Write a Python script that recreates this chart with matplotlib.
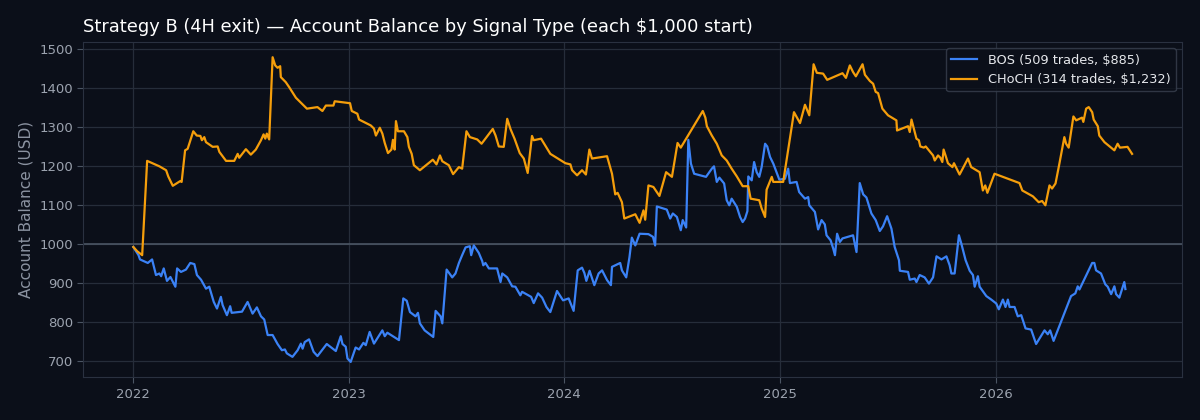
import matplotlib
matplotlib.use("Agg")
import matplotlib.pyplot as plt
from matplotlib.ticker import FixedLocator, FuncFormatter

# ---- data (decimal year, balance USD) ----
bos_t = [2022.001, 2022.025, 2022.032, 2022.068, 2022.088, 2022.106, 2022.122, 2022.130, 2022.142, 2022.157,
         2022.173, 2022.196, 2022.204, 2022.222, 2022.245, 2022.265, 2022.284, 2022.296, 2022.315, 2022.338,
         2022.353, 2022.374, 2022.389, 2022.407, 2022.415, 2022.435, 2022.450, 2022.457, 2022.505, 2022.531,
         2022.554, 2022.574, 2022.593, 2022.608, 2022.624, 2022.647, 2022.670, 2022.690, 2022.704, 2022.713,
         2022.739, 2022.763, 2022.778, 2022.786, 2022.796, 2022.816, 2022.837, 2022.855, 2022.898, 2022.940,
         2022.963, 2022.971, 2022.986, 2022.994, 2023.009, 2023.032, 2023.048, 2023.068, 2023.079, 2023.097,
         2023.117, 2023.156, 2023.167, 2023.179, 2023.233, 2023.253, 2023.269, 2023.284, 2023.310, 2023.321,
         2023.330, 2023.352, 2023.392, 2023.403, 2023.426, 2023.434, 2023.454, 2023.480, 2023.495, 2023.511,
         2023.526, 2023.542, 2023.562, 2023.568, 2023.580, 2023.603, 2023.619, 2023.624, 2023.634, 2023.650,
         2023.688, 2023.704, 2023.712, 2023.735, 2023.758, 2023.773, 2023.796, 2023.804, 2023.846, 2023.858,
         2023.878, 2023.897, 2023.917, 2023.935, 2023.966, 2023.994, 2024.020, 2024.043, 2024.062, 2024.082,
         2024.093, 2024.102, 2024.117, 2024.139, 2024.159, 2024.175, 2024.198, 2024.216, 2024.221, 2024.259,
         2024.267, 2024.287, 2024.302, 2024.313, 2024.329, 2024.349, 2024.390, 2024.411, 2024.421, 2024.429,
         2024.475, 2024.491, 2024.503, 2024.522, 2024.540, 2024.549, 2024.565, 2024.575, 2024.587, 2024.602,
         2024.657, 2024.684, 2024.694, 2024.707, 2024.719, 2024.741, 2024.753, 2024.765, 2024.776, 2024.800,
         2024.815, 2024.827, 2024.838, 2024.849, 2024.853, 2024.869, 2024.880, 2024.892, 2024.904, 2024.915,
         2024.931, 2024.941, 2024.954, 2024.969, 2024.997, 2025.023, 2025.038, 2025.046, 2025.077, 2025.089,
         2025.116, 2025.131, 2025.136, 2025.162, 2025.177, 2025.193, 2025.208, 2025.216, 2025.235, 2025.247,
         2025.255, 2025.265, 2025.278, 2025.290, 2025.339, 2025.355, 2025.370, 2025.386, 2025.401, 2025.424,
         2025.444, 2025.463, 2025.478, 2025.497, 2025.517, 2025.532, 2025.552, 2025.556, 2025.594, 2025.602,
         2025.625, 2025.633, 2025.648, 2025.671, 2025.691, 2025.710, 2025.726, 2025.749, 2025.772, 2025.787,
         2025.795, 2025.810, 2025.830, 2025.841, 2025.861, 2025.880, 2025.895, 2025.903, 2025.918, 2025.926,
         2025.957, 2025.980, 2026.003, 2026.015, 2026.034, 2026.046, 2026.057, 2026.065, 2026.088, 2026.103,
         2026.119, 2026.139, 2026.165, 2026.188, 2026.227, 2026.242, 2026.253, 2026.269, 2026.350, 2026.370,
         2026.381, 2026.389, 2026.448, 2026.458, 2026.466, 2026.489, 2026.509, 2026.520, 2026.536, 2026.551,
         2026.559, 2026.574, 2026.597, 2026.602]
bos_v = [993, 972, 961, 952, 961, 921, 925, 918, 938, 906,
         916, 891, 938, 929, 935, 952, 949, 921, 909, 886,
         891, 852, 835, 865, 844, 818, 841, 824, 827, 852,
         822, 838, 815, 807, 767, 767, 744, 728, 730, 720,
         711, 728, 745, 732, 749, 756, 724, 713, 744, 726,
         764, 744, 737, 707, 698, 735, 730, 747, 741, 775,
         745, 779, 764, 773, 754, 861, 855, 826, 815, 824,
         797, 779, 762, 829, 815, 797, 935, 915, 925, 952,
         972, 992, 995, 972, 997, 978, 957, 946, 952, 938,
         938, 903, 925, 915, 892, 891, 869, 878, 865, 849,
         874, 863, 839, 826, 880, 856, 861, 829, 933, 940,
         926, 906, 932, 895, 925, 933, 908, 895, 942, 952,
         933, 915, 967, 1017, 997, 1027, 1026, 1019, 997, 1097,
         1089, 1066, 1079, 1070, 1036, 1062, 1043, 1268, 1207, 1181,
         1173, 1194, 1200, 1160, 1171, 1156, 1113, 1100, 1117, 1096,
         1070, 1057, 1066, 1085, 1174, 1164, 1211, 1185, 1173, 1198,
         1258, 1251, 1224, 1207, 1166, 1168, 1194, 1157, 1160, 1134,
         1117, 1121, 1100, 1083, 1038, 1062, 1051, 1023, 1010, 989,
         972, 1027, 1006, 1015, 1023, 980, 1157, 1128, 1120, 1079,
         1062, 1034, 1046, 1072, 1040, 993, 959, 932, 929, 909,
         912, 903, 921, 915, 899, 915, 969, 961, 969, 946,
         925, 925, 1023, 1002, 959, 932, 921, 891, 918, 891,
         867, 858, 848, 833, 858, 839, 858, 839, 839, 815,
         818, 784, 781, 744, 779, 769, 779, 752, 867, 874,
         892, 884, 952, 952, 933, 925, 897, 891, 872, 892,
         872, 863, 903, 885]

choch_t = [2022.001, 2022.019, 2022.042, 2022.065, 2022.122, 2022.153, 2022.163, 2022.184, 2022.218, 2022.225,
           2022.241, 2022.253, 2022.279, 2022.295, 2022.312, 2022.319, 2022.330, 2022.338, 2022.369, 2022.392,
           2022.400, 2022.431, 2022.469, 2022.485, 2022.492, 2022.523, 2022.546, 2022.569, 2022.593, 2022.605,
           2022.613, 2022.620, 2022.631, 2022.647, 2022.659, 2022.670, 2022.682, 2022.685, 2022.708, 2022.724,
           2022.755, 2022.806, 2022.855, 2022.878, 2022.894, 2022.929, 2022.935, 2023.006, 2023.014, 2023.040,
           2023.048, 2023.102, 2023.117, 2023.126, 2023.144, 2023.156, 2023.167, 2023.182, 2023.198, 2023.205,
           2023.213, 2023.219, 2023.228, 2023.256, 2023.272, 2023.279, 2023.292, 2023.302, 2023.330, 2023.390,
           2023.407, 2023.423, 2023.434, 2023.464, 2023.484, 2023.511, 2023.526, 2023.546, 2023.562, 2023.596,
           2023.616, 2023.668, 2023.681, 2023.696, 2023.719, 2023.735, 2023.750, 2023.769, 2023.793, 2023.812,
           2023.830, 2023.850, 2023.858, 2023.892, 2023.935, 2024.005, 2024.028, 2024.036, 2024.059, 2024.082,
           2024.100, 2024.116, 2024.128, 2024.198, 2024.221, 2024.236, 2024.247, 2024.267, 2024.278, 2024.329,
           2024.349, 2024.367, 2024.375, 2024.390, 2024.413, 2024.441, 2024.472, 2024.499, 2024.525, 2024.540,
           2024.642, 2024.654, 2024.661, 2024.684, 2024.707, 2024.730, 2024.753, 2024.776, 2024.800, 2024.827,
           2024.853, 2024.864, 2024.904, 2024.915, 2024.931, 2024.938, 2024.962, 2024.969, 2025.015, 2025.065,
           2025.093, 2025.116, 2025.136, 2025.156, 2025.171, 2025.200, 2025.219, 2025.290, 2025.306, 2025.324,
           2025.339, 2025.352, 2025.383, 2025.394, 2025.417, 2025.432, 2025.444, 2025.455, 2025.475, 2025.501,
           2025.540, 2025.543, 2025.594, 2025.602, 2025.610, 2025.633, 2025.644, 2025.651, 2025.667, 2025.676,
           2025.710, 2025.718, 2025.733, 2025.744, 2025.753, 2025.759, 2025.769, 2025.779, 2025.800, 2025.807,
           2025.833, 2025.872, 2025.887, 2025.926, 2025.941, 2025.952, 2025.962, 2025.995, 2026.111, 2026.124,
           2026.173, 2026.200, 2026.216, 2026.231, 2026.250, 2026.262, 2026.278, 2026.296, 2026.319, 2026.327,
           2026.339, 2026.361, 2026.374, 2026.401, 2026.407, 2026.420, 2026.432, 2026.448, 2026.455, 2026.474,
           2026.481, 2026.505, 2026.536, 2026.551, 2026.566, 2026.577, 2026.612, 2026.633]
choch_v = [993, 982, 972, 1214, 1200, 1190, 1174, 1150, 1162, 1160,
           1241, 1245, 1290, 1279, 1278, 1267, 1275, 1262, 1250, 1251,
           1237, 1214, 1214, 1232, 1222, 1244, 1230, 1243, 1267, 1282,
           1271, 1284, 1269, 1480, 1459, 1453, 1457, 1429, 1416, 1403,
           1376, 1348, 1352, 1342, 1356, 1356, 1367, 1362, 1342, 1335,
           1320, 1305, 1297, 1279, 1299, 1284, 1260, 1234, 1243, 1268,
           1243, 1316, 1290, 1290, 1275, 1250, 1232, 1203, 1190, 1217,
           1205, 1228, 1213, 1203, 1180, 1198, 1194, 1290, 1275, 1269,
           1258, 1296, 1279, 1251, 1250, 1322, 1296, 1271, 1234, 1220,
           1183, 1278, 1267, 1271, 1232, 1208, 1205, 1190, 1177, 1190,
           1179, 1243, 1220, 1226, 1181, 1128, 1132, 1108, 1066, 1077,
           1055, 1087, 1063, 1151, 1147, 1124, 1185, 1173, 1260, 1248,
           1342, 1325, 1303, 1279, 1258, 1228, 1215, 1194, 1174, 1149,
           1149, 1117, 1113, 1092, 1070, 1140, 1173, 1160, 1160, 1339,
           1311, 1358, 1331, 1462, 1440, 1438, 1422, 1439, 1427, 1459,
           1442, 1431, 1462, 1435, 1419, 1412, 1391, 1388, 1348, 1331,
           1318, 1292, 1303, 1288, 1320, 1271, 1267, 1251, 1248, 1251,
           1228, 1215, 1228, 1222, 1211, 1243, 1226, 1208, 1198, 1208,
           1179, 1220, 1198, 1185, 1138, 1151, 1132, 1181, 1157, 1138,
           1123, 1108, 1111, 1100, 1151, 1143, 1156, 1207, 1275, 1258,
           1248, 1328, 1318, 1325, 1314, 1348, 1352, 1339, 1320, 1303,
           1279, 1262, 1248, 1241, 1258, 1248, 1250, 1232]

years = [2022, 2023, 2024, 2025, 2026]
labels = ["BOS (509 trades, \\$885)", "CHoCH (314 trades, \\$1,232)"]
title = "Strategy B (4H exit) \u2014 Account Balance by Signal Type (each \\$1,000 start)"

# ---- style ----
BG = "#0b0f19"
GRID = "#262d3a"
TXT = "#9ca3af"

fig = plt.figure(figsize=(12, 4.2), dpi=100, facecolor=BG)
ax = fig.add_axes([0.0695, 0.102, 0.9155, 0.798])
ax.set_facecolor(BG)

ax.grid(True, color=GRID, linewidth=0.9)
ax.set_axisbelow(True)
ax.axhline(1000, color="#4b5563", linewidth=1.2, zorder=1.5)

ax.plot(bos_t, bos_v, color="#3b82f6", linewidth=1.6, label=labels[0], zorder=3)
ax.plot(choch_t, choch_v, color="#f59e0b", linewidth=1.6, label=labels[1], zorder=3)

ax.xaxis.set_major_locator(FixedLocator(years))
ax.xaxis.set_major_formatter(FuncFormatter(lambda v, p: f"{int(round(v))}"))
ax.set_yticks([700, 800, 900, 1000, 1100, 1200, 1300, 1400, 1500])

for s in ax.spines.values():
    s.set_color("#2a3140")
ax.tick_params(colors=TXT, labelsize=9.5, length=4, color="#4b5563")
ax.set_ylabel("Account Balance (USD)", color="#8b93a1", fontsize=11)
ax.set_title(title, loc="left", color="white", fontsize=12.9, pad=7)

leg = ax.legend(loc="upper right", fontsize=9.3, facecolor="#0b0f19", edgecolor="#3a4150",
                framealpha=0.8, labelcolor="#e5e7eb")
leg.get_frame().set_linewidth(1.0)

fig.savefig("out.png", dpi=100, facecolor=BG)
